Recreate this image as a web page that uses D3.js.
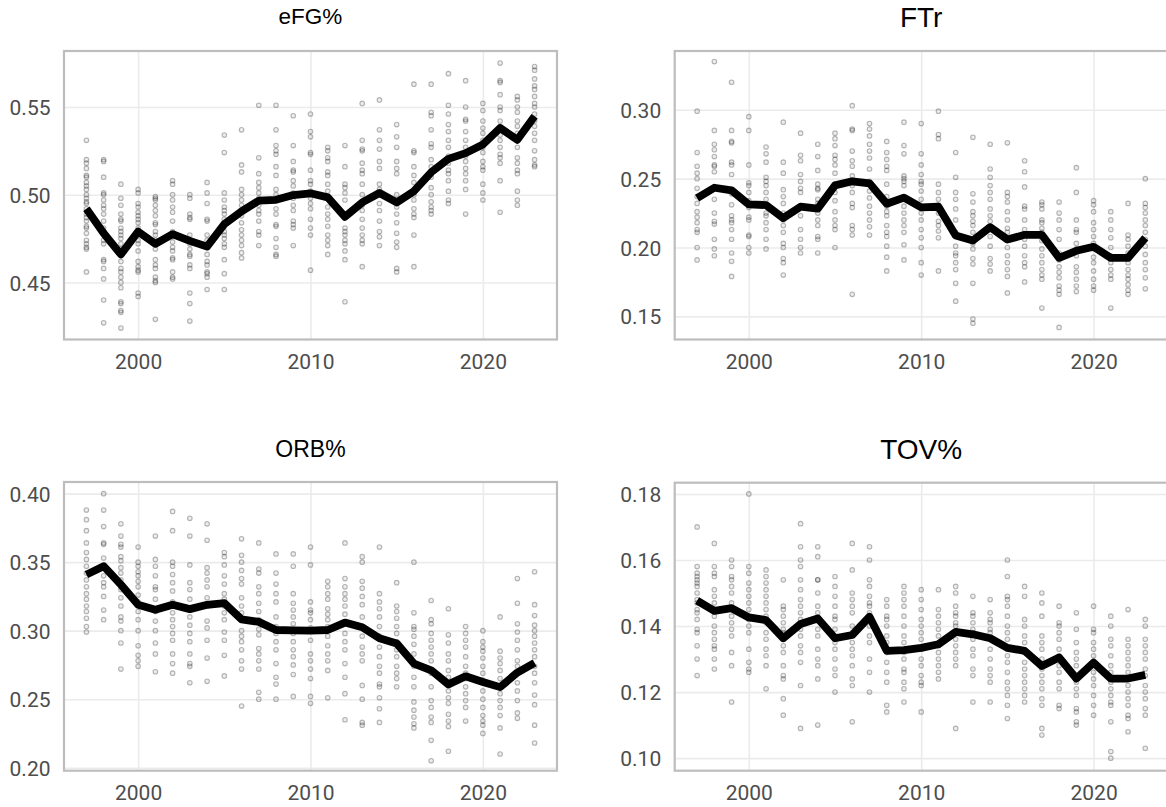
<!DOCTYPE html>
<html>
<head>
<meta charset="utf-8">
<script src="https://cdn.jsdelivr.net/npm/d3@7"></script>
<style>
  html, body { margin: 0; padding: 0; background: #ffffff; }
  svg { display: block; }
</style>
</head>
<body>
<svg id="chart" width="1166" height="807"></svg>
<script>
// ---------------- DATA ----------------
const years = [1997,1998,1999,2000,2001,2002,2003,2004,2005,2006,2007,2008,2009,2010,2011,2012,2013,2014,2015,2016,2017,2018,2019,2020,2021,2022,2023];
const xTicks = [2000, 2010, 2020];

const efgMean = [0.492,0.478,0.466,0.479,0.472,0.4775,0.4737,0.4704,0.4832,0.4905,0.4966,0.4971,0.4998,0.5008,0.4985,0.4874,0.4956,0.501,0.4956,0.502,0.5128,0.5204,0.5237,0.5286,0.538,0.5313,0.5447];
const efgTicks = [0.45, 0.50, 0.55];
const efgTeams = [
  [0.531,0.520,0.518,0.515,0.511,0.510,0.507,0.505,0.503,0.500,0.498,0.496,0.495,0.492,0.489,0.487,0.485,0.482,0.481,0.478,0.474,0.472,0.470,0.469,0.456],
  [0.520,0.519,0.510,0.501,0.500,0.497,0.494,0.492,0.489,0.485,0.481,0.479,0.478,0.474,0.472,0.463,0.462,0.458,0.452,0.440,0.427],
  [0.506,0.498,0.494,0.489,0.486,0.485,0.481,0.479,0.477,0.475,0.472,0.469,0.466,0.462,0.458,0.456,0.453,0.450,0.447,0.439,0.438,0.434,0.433,0.424],
  [0.503,0.501,0.495,0.493,0.490,0.488,0.486,0.484,0.481,0.478,0.474,0.472,0.468,0.462,0.459,0.457,0.456,0.444,0.442],
  [0.499,0.498,0.497,0.494,0.491,0.488,0.484,0.483,0.479,0.477,0.474,0.469,0.463,0.460,0.458,0.453,0.451,0.450,0.429],
  [0.508,0.506,0.500,0.497,0.493,0.490,0.485,0.479,0.476,0.473,0.470,0.468,0.464,0.463,0.456,0.453,0.452],
  [0.500,0.498,0.489,0.487,0.486,0.477,0.472,0.469,0.466,0.465,0.460,0.458,0.444,0.438,0.428],
  [0.507,0.501,0.495,0.486,0.485,0.477,0.474,0.470,0.466,0.462,0.460,0.456,0.455,0.453,0.446],
  [0.534,0.524,0.501,0.497,0.493,0.491,0.489,0.486,0.482,0.479,0.477,0.475,0.472,0.470,0.463,0.455,0.446],
  [0.537,0.517,0.513,0.503,0.500,0.497,0.494,0.491,0.488,0.484,0.480,0.477,0.474,0.471,0.467,0.464],
  [0.551,0.521,0.512,0.507,0.504,0.501,0.498,0.497,0.494,0.491,0.489,0.485,0.479,0.477,0.471],
  [0.551,0.537,0.528,0.525,0.523,0.516,0.511,0.503,0.500,0.497,0.492,0.489,0.483,0.482,0.475,0.470,0.466,0.465],
  [0.545,0.528,0.519,0.514,0.513,0.508,0.505,0.501,0.498,0.494,0.491,0.485,0.483,0.481,0.471],
  [0.546,0.536,0.533,0.524,0.523,0.514,0.508,0.506,0.502,0.498,0.495,0.492,0.486,0.481,0.477,0.457],
  [0.527,0.525,0.521,0.519,0.513,0.511,0.506,0.502,0.493,0.489,0.486,0.482,0.477,0.474,0.471,0.466],
  [0.528,0.516,0.506,0.504,0.501,0.497,0.489,0.481,0.479,0.477,0.474,0.472,0.468,0.463,0.439],
  [0.552,0.531,0.526,0.525,0.518,0.514,0.512,0.506,0.500,0.494,0.491,0.486,0.481,0.477,0.474,0.472,0.459],
  [0.554,0.537,0.531,0.526,0.519,0.515,0.506,0.503,0.500,0.495,0.491,0.485,0.479,0.476,0.471],
  [0.540,0.533,0.527,0.519,0.515,0.512,0.500,0.497,0.493,0.489,0.484,0.478,0.473,0.470,0.458,0.456],
  [0.563,0.525,0.524,0.516,0.511,0.507,0.500,0.497,0.492,0.489,0.487,0.477,0.459],
  [0.563,0.547,0.545,0.537,0.529,0.527,0.520,0.516,0.510,0.504,0.500,0.496,0.493,0.491,0.489],
  [0.569,0.551,0.546,0.540,0.536,0.531,0.527,0.522,0.518,0.514,0.512,0.508,0.502,0.497,0.495],
  [0.565,0.550,0.543,0.542,0.536,0.531,0.527,0.522,0.519,0.515,0.512,0.508,0.503,0.489],
  [0.552,0.548,0.542,0.538,0.535,0.531,0.527,0.524,0.519,0.516,0.514,0.506,0.501,0.497],
  [0.575,0.565,0.564,0.557,0.550,0.548,0.542,0.539,0.534,0.531,0.527,0.523,0.521,0.518,0.508,0.490],
  [0.556,0.554,0.550,0.547,0.542,0.539,0.535,0.531,0.527,0.521,0.518,0.514,0.512,0.502,0.497,0.494],
  [0.573,0.571,0.566,0.562,0.560,0.556,0.552,0.550,0.546,0.542,0.539,0.535,0.531,0.525,0.520,0.517,0.516]
];

const ftrMean = [0.2359,0.2434,0.2415,0.2313,0.2308,0.2214,0.2296,0.2282,0.2451,0.2481,0.2466,0.2318,0.2362,0.2291,0.2296,0.2087,0.2051,0.2148,0.2058,0.2092,0.2092,0.1925,0.1976,0.2005,0.1925,0.1925,0.207];
const ftrTicks = [0.15, 0.20, 0.25, 0.30];
const ftrTeams = [
  [0.299,0.269,0.259,0.254,0.250,0.243,0.237,0.232,0.226,0.222,0.218,0.213,0.211,0.200,0.191],
  [0.335,0.285,0.275,0.271,0.266,0.260,0.259,0.255,0.235,0.225,0.219,0.217,0.206,0.199,0.194],
  [0.320,0.285,0.277,0.276,0.262,0.260,0.253,0.239,0.231,0.223,0.220,0.218,0.213,0.206,0.196,0.190,0.179],
  [0.295,0.285,0.260,0.247,0.245,0.240,0.234,0.229,0.222,0.220,0.209,0.208,0.200,0.196],
  [0.273,0.268,0.262,0.251,0.248,0.245,0.240,0.235,0.231,0.225,0.223,0.218,0.213,0.206,0.199],
  [0.291,0.262,0.254,0.242,0.237,0.232,0.225,0.220,0.216,0.211,0.203,0.200,0.192,0.189,0.180],
  [0.283,0.267,0.263,0.253,0.248,0.243,0.240,0.230,0.223,0.213,0.206,0.200,0.196],
  [0.275,0.266,0.256,0.246,0.243,0.242,0.235,0.232,0.225,0.220,0.216,0.208,0.206,0.196],
  [0.283,0.279,0.274,0.267,0.264,0.260,0.254,0.246,0.240,0.234,0.226,0.220,0.216,0.213,0.200],
  [0.303,0.286,0.285,0.270,0.263,0.259,0.252,0.245,0.240,0.232,0.229,0.216,0.213,0.209,0.166],
  [0.290,0.286,0.281,0.275,0.270,0.265,0.257,0.248,0.241,0.236,0.230,0.225,0.220,0.215,0.209],
  [0.277,0.269,0.264,0.259,0.256,0.246,0.237,0.230,0.226,0.223,0.216,0.211,0.208,0.201,0.193,0.183],
  [0.291,0.274,0.268,0.252,0.250,0.248,0.245,0.235,0.230,0.225,0.220,0.216,0.211,0.202,0.191],
  [0.290,0.268,0.260,0.253,0.248,0.246,0.241,0.235,0.229,0.225,0.220,0.213,0.207,0.200,0.189,0.180],
  [0.299,0.282,0.279,0.246,0.240,0.235,0.231,0.225,0.219,0.216,0.212,0.207,0.183],
  [0.269,0.251,0.240,0.235,0.228,0.220,0.211,0.201,0.196,0.194,0.189,0.184,0.174,0.161],
  [0.280,0.239,0.233,0.226,0.223,0.219,0.216,0.211,0.203,0.199,0.192,0.188,0.174,0.148,0.145],
  [0.275,0.257,0.251,0.245,0.240,0.235,0.228,0.223,0.219,0.213,0.208,0.201,0.192,0.188,0.183],
  [0.276,0.240,0.237,0.233,0.226,0.220,0.214,0.211,0.206,0.200,0.194,0.189,0.184,0.179,0.167],
  [0.263,0.255,0.244,0.230,0.228,0.220,0.213,0.209,0.206,0.201,0.194,0.189,0.186,0.175],
  [0.233,0.231,0.228,0.220,0.218,0.214,0.211,0.205,0.199,0.194,0.189,0.184,0.180,0.177,0.156],
  [0.233,0.225,0.220,0.213,0.206,0.196,0.191,0.186,0.182,0.178,0.172,0.169,0.166,0.142],
  [0.258,0.240,0.220,0.213,0.211,0.203,0.199,0.194,0.186,0.182,0.177,0.172,0.168],
  [0.234,0.231,0.226,0.218,0.213,0.208,0.203,0.199,0.193,0.189,0.183,0.177,0.172,0.169],
  [0.226,0.220,0.213,0.207,0.200,0.194,0.189,0.184,0.180,0.177,0.156],
  [0.232,0.209,0.206,0.201,0.196,0.192,0.189,0.184,0.180,0.177,0.173,0.169,0.166],
  [0.250,0.232,0.229,0.225,0.220,0.216,0.211,0.206,0.201,0.195,0.189,0.184,0.178,0.170]
];

const orbMean = [0.3409,0.3471,0.3336,0.3189,0.3152,0.3189,0.3157,0.3189,0.3201,0.3083,0.3064,0.3005,0.3002,0.300,0.3005,0.3059,0.3025,0.2944,0.2907,0.276,0.2711,0.2608,0.2667,0.2625,0.2588,0.2694,0.2765];
const orbTicks = [0.20, 0.25, 0.30, 0.35, 0.40];
const orbTeams = [
  [0.388,0.381,0.373,0.364,0.357,0.352,0.347,0.342,0.337,0.332,0.327,0.323,0.318,0.314,0.309,0.303,0.299],
  [0.400,0.388,0.376,0.364,0.363,0.353,0.347,0.340,0.335,0.332,0.325,0.315,0.308],
  [0.378,0.369,0.363,0.361,0.354,0.351,0.346,0.342,0.337,0.330,0.324,0.318,0.310,0.307,0.300,0.291,0.272],
  [0.361,0.350,0.347,0.343,0.340,0.336,0.332,0.326,0.321,0.314,0.308,0.300,0.289,0.282,0.278,0.274],
  [0.369,0.352,0.347,0.340,0.332,0.330,0.323,0.314,0.307,0.300,0.291,0.283,0.270],
  [0.387,0.373,0.350,0.347,0.341,0.335,0.329,0.321,0.313,0.308,0.303,0.298,0.293,0.283,0.276,0.269],
  [0.382,0.369,0.348,0.335,0.330,0.323,0.316,0.310,0.304,0.298,0.292,0.283,0.276,0.274,0.262],
  [0.378,0.366,0.346,0.342,0.337,0.332,0.324,0.318,0.307,0.302,0.293,0.280,0.263],
  [0.357,0.354,0.348,0.340,0.334,0.327,0.323,0.318,0.313,0.308,0.299,0.293,0.282,0.267],
  [0.367,0.355,0.350,0.344,0.338,0.334,0.324,0.318,0.313,0.300,0.296,0.292,0.286,0.278,0.272,0.245],
  [0.364,0.345,0.342,0.332,0.327,0.320,0.314,0.308,0.301,0.297,0.287,0.283,0.278,0.272,0.255,0.250],
  [0.356,0.342,0.334,0.327,0.321,0.310,0.303,0.298,0.292,0.286,0.276,0.266,0.261,0.250],
  [0.356,0.347,0.327,0.320,0.315,0.310,0.305,0.298,0.292,0.286,0.281,0.275,0.268,0.252],
  [0.361,0.348,0.321,0.315,0.313,0.308,0.302,0.293,0.283,0.278,0.272,0.265,0.252,0.247],
  [0.336,0.332,0.327,0.323,0.316,0.312,0.308,0.303,0.296,0.289,0.283,0.278,0.271,0.251],
  [0.364,0.338,0.332,0.327,0.323,0.318,0.312,0.305,0.298,0.292,0.286,0.276,0.266,0.254,0.235],
  [0.354,0.350,0.336,0.331,0.325,0.319,0.310,0.303,0.296,0.288,0.283,0.278,0.260,0.250,0.233,0.231],
  [0.361,0.327,0.321,0.316,0.310,0.303,0.296,0.288,0.281,0.274,0.269,0.261,0.259,0.251,0.243,0.233],
  [0.335,0.318,0.314,0.309,0.303,0.298,0.292,0.286,0.281,0.274,0.269,0.265,0.259],
  [0.350,0.313,0.303,0.301,0.296,0.290,0.283,0.274,0.266,0.259,0.248,0.242,0.237,0.232,0.229],
  [0.322,0.308,0.305,0.298,0.293,0.288,0.283,0.278,0.269,0.259,0.249,0.244,0.237,0.233,0.220,0.205],
  [0.316,0.297,0.291,0.283,0.278,0.271,0.266,0.261,0.256,0.251,0.247,0.239,0.234,0.230,0.212],
  [0.303,0.298,0.293,0.288,0.281,0.274,0.269,0.265,0.259,0.254,0.249,0.244,0.234],
  [0.300,0.292,0.288,0.285,0.280,0.274,0.269,0.264,0.256,0.250,0.244,0.238,0.234,0.231,0.225],
  [0.310,0.285,0.280,0.276,0.271,0.265,0.259,0.254,0.249,0.244,0.238,0.229,0.210],
  [0.338,0.320,0.305,0.299,0.293,0.286,0.278,0.274,0.269,0.262,0.256,0.249,0.240,0.236],
  [0.343,0.319,0.311,0.304,0.300,0.296,0.291,0.286,0.281,0.274,0.269,0.262,0.253,0.246,0.231,0.218]
];

const tovMean = [0.1477,0.1446,0.1454,0.1426,0.1418,0.1363,0.1406,0.1423,0.1363,0.1373,0.1428,0.1325,0.1327,0.1334,0.1345,0.1382,0.1375,0.1363,0.1334,0.1325,0.1279,0.1305,0.1241,0.1289,0.1241,0.1241,0.1252];
const tovTicks = [0.10, 0.12, 0.14, 0.16, 0.18];
const tovTeams = [
  [0.170,0.158,0.156,0.155,0.154,0.153,0.152,0.150,0.148,0.147,0.145,0.144,0.142,0.139,0.138,0.134,0.130,0.125],
  [0.165,0.158,0.156,0.155,0.151,0.149,0.147,0.143,0.140,0.138,0.136,0.134,0.133,0.130,0.127],
  [0.160,0.158,0.155,0.154,0.152,0.150,0.147,0.145,0.143,0.141,0.139,0.137,0.132,0.128,0.117],
  [0.180,0.158,0.156,0.153,0.151,0.149,0.147,0.145,0.143,0.142,0.140,0.138,0.133,0.129,0.127,0.126],
  [0.157,0.155,0.153,0.151,0.149,0.147,0.145,0.143,0.141,0.138,0.136,0.133,0.131,0.128,0.121],
  [0.154,0.146,0.145,0.143,0.141,0.139,0.138,0.136,0.134,0.132,0.128,0.125,0.124,0.118,0.113],
  [0.171,0.164,0.160,0.158,0.154,0.151,0.148,0.146,0.144,0.142,0.139,0.137,0.134,0.132,0.129,0.122,0.109],
  [0.164,0.161,0.154,0.154,0.150,0.146,0.144,0.142,0.139,0.137,0.133,0.130,0.128,0.124,0.110],
  [0.155,0.152,0.149,0.146,0.143,0.142,0.139,0.137,0.135,0.133,0.130,0.127,0.125,0.120],
  [0.165,0.157,0.150,0.148,0.146,0.144,0.140,0.138,0.135,0.133,0.131,0.128,0.124,0.122,0.111],
  [0.164,0.160,0.154,0.152,0.149,0.147,0.146,0.144,0.143,0.140,0.137,0.135,0.130,0.126,0.120],
  [0.148,0.146,0.143,0.142,0.140,0.137,0.135,0.132,0.129,0.126,0.123,0.116,0.114],
  [0.152,0.150,0.148,0.146,0.143,0.140,0.137,0.135,0.132,0.130,0.127,0.126,0.123,0.121,0.117],
  [0.151,0.148,0.145,0.142,0.140,0.138,0.136,0.133,0.130,0.128,0.125,0.123,0.122,0.114],
  [0.151,0.145,0.143,0.141,0.139,0.137,0.134,0.132,0.130,0.128,0.126,0.124],
  [0.152,0.150,0.146,0.144,0.143,0.141,0.140,0.138,0.136,0.134,0.132,0.130,0.128,0.109],
  [0.149,0.144,0.143,0.141,0.139,0.138,0.136,0.133,0.131,0.127,0.125,0.117],
  [0.148,0.144,0.142,0.141,0.139,0.138,0.136,0.133,0.130,0.127,0.125,0.123,0.117],
  [0.160,0.155,0.149,0.148,0.146,0.143,0.140,0.138,0.136,0.133,0.131,0.129,0.126,0.123,0.121,0.119,0.116,0.112],
  [0.152,0.149,0.142,0.140,0.137,0.135,0.132,0.129,0.127,0.125,0.123,0.121,0.119,0.117],
  [0.150,0.147,0.143,0.137,0.135,0.133,0.130,0.127,0.125,0.123,0.121,0.118,0.116,0.109,0.107],
  [0.146,0.141,0.140,0.138,0.136,0.133,0.131,0.128,0.126,0.123,0.121,0.116,0.115],
  [0.144,0.139,0.135,0.132,0.130,0.128,0.125,0.123,0.121,0.119,0.115,0.114,0.111,0.110],
  [0.146,0.139,0.138,0.135,0.133,0.131,0.129,0.126,0.124,0.122,0.119,0.116,0.113],
  [0.143,0.140,0.136,0.134,0.131,0.128,0.126,0.123,0.121,0.119,0.117,0.116,0.111,0.102,0.100],
  [0.145,0.136,0.134,0.132,0.130,0.128,0.126,0.124,0.122,0.120,0.118,0.116,0.113,0.112,0.108],
  [0.142,0.140,0.136,0.134,0.132,0.130,0.127,0.125,0.122,0.120,0.118,0.115,0.113,0.103]
];

// ---------------- LAYOUT ----------------
const panels = [
  { title: "eFG%", mean: efgMean, teams: efgTeams, ticks: efgTicks, yDomain: [0.4175, 0.5819],
    x0: 64, y0: 51, w: 493, h: 288.5, titleSize: 22.5, titleY: 24.3 },
  { title: "FTr", mean: ftrMean, teams: ftrTeams, ticks: ftrTicks, yDomain: [0.1332, 0.3427],
    x0: 674.7, y0: 51, w: 493, h: 288.5, titleSize: 28, titleY: 26.7 },
  { title: "ORB%", mean: orbMean, teams: orbTeams, ticks: orbTicks, yDomain: [0.1978, 0.4085],
    x0: 64, y0: 482, w: 493, h: 288.7, titleSize: 23, titleY: 457 },
  { title: "TOV%", mean: tovMean, teams: tovTeams, ticks: tovTicks, yDomain: [0.0962, 0.1834],
    x0: 674.7, y0: 482.7, w: 493, h: 288, titleSize: 28, titleY: 459.3 }
];

const svg = d3.select("#chart");
const tickFont = "Roboto, 'Noto Sans', sans-serif";
const titleFont = "'Liberation Sans', Arial, sans-serif";

panels.forEach(p => {
  const x = d3.scaleLinear().domain([1995.7, 2024.3]).range([p.x0, p.x0 + p.w]);
  const y = d3.scaleLinear().domain(p.yDomain).range([p.y0 + p.h, p.y0]);
  const g = svg.append("g");

  g.append("rect").attr("x", p.x0).attr("y", p.y0).attr("width", p.w).attr("height", p.h)
    .attr("fill", "#ffffff");

  const gx = g.append("g").attr("transform", `translate(0,${p.y0 + p.h})`)
    .call(d3.axisBottom(x).tickValues(xTicks).tickSize(-p.h).tickFormat(""));
  const gy = g.append("g").attr("transform", `translate(${p.x0},0)`)
    .call(d3.axisLeft(y).tickValues(p.ticks).tickSize(-p.w).tickFormat(""));
  [gx, gy].forEach(a => {
    a.select(".domain").remove();
    a.selectAll(".tick line").attr("stroke", "#ebebeb").attr("stroke-width", 1.6);
  });

  const lx = g.append("g").attr("transform", `translate(0,${p.y0 + p.h})`)
    .call(d3.axisBottom(x).tickValues(xTicks).tickSize(0).tickPadding(0).tickFormat(d3.format("d")));
  lx.select(".domain").remove();
  lx.selectAll("text").attr("y", 29).attr("dy", null)
    .style("font-family", tickFont).style("font-size", "21px").attr("fill", "#4d4d4d");

  const ly = g.append("g").attr("transform", `translate(${p.x0},0)`)
    .call(d3.axisLeft(y).tickValues(p.ticks).tickSize(0).tickPadding(13.5).tickFormat(d3.format(".2f")));
  ly.select(".domain").remove();
  ly.selectAll("text").attr("dy", "0.36em")
    .style("font-family", tickFont).style("font-size", "21px").attr("fill", "#4d4d4d");

  const pts = [];
  p.teams.forEach((arr, i) => arr.forEach(v => pts.push({ year: years[i], v })));
  g.append("g").selectAll("circle").data(pts).join("circle")
    .attr("cx", d => x(d.year)).attr("cy", d => y(d.v)).attr("r", 2.3)
    .attr("fill", "rgba(0,0,0,0.07)").attr("stroke", "rgba(0,0,0,0.28)").attr("stroke-width", 1.1);

  const line = d3.line().x((d, i) => x(years[i])).y(d => y(d));
  g.append("path").datum(p.mean).attr("d", line)
    .attr("fill", "none").attr("stroke", "#000").attr("stroke-width", 7.8)
    .attr("stroke-linejoin", "round").attr("stroke-linecap", "butt");

  g.append("rect").attr("x", p.x0).attr("y", p.y0).attr("width", p.w).attr("height", p.h)
    .attr("fill", "none").attr("stroke", "#bdbdbd").attr("stroke-width", 2.2);

  svg.append("text").attr("x", p.x0 + p.w / 2).attr("y", p.titleY)
    .attr("text-anchor", "middle").style("font-family", titleFont)
    .style("font-size", p.titleSize + "px").attr("fill", "#000").text(p.title);
});
</script>
</body>
</html>
